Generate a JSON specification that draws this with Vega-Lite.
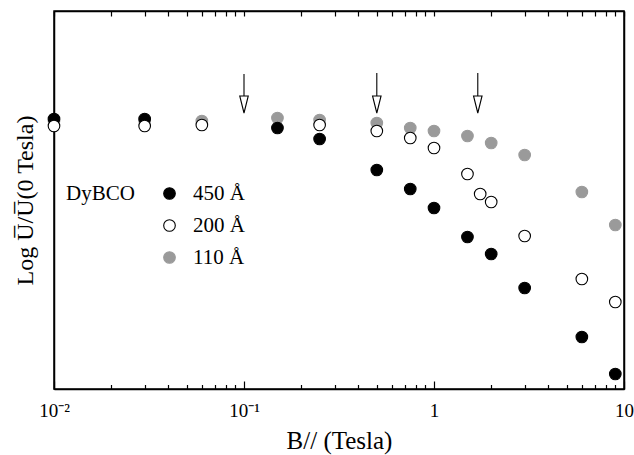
{
  "$schema": "https://vega.github.io/schema/vega-lite/v6.json",
  "width": 570,
  "height": 378,
  "autosize": {"type": "none"},
  "padding": {"left": 54, "top": 11, "right": 10, "bottom": 66},
  "background": "white",
  "config": {
    "view": {"stroke": "black", "strokeWidth": 1.5},
    "font": "Liberation Serif",
    "axis": {"labelFont": "Liberation Serif", "titleFont": "Liberation Serif", "titleFontWeight": "normal", "labelColor": "black", "titleColor": "black", "tickColor": "black", "domainColor": "black", "domainWidth": 1.5, "tickWidth": 1.2},
    "legend": {"titleFont": "Liberation Serif", "titleFontSize": 21, "titleFontWeight": "normal", "titleColor": "black", "labelFont": "Liberation Serif", "labelFontSize": 21, "labelColor": "black"}
  },
  "datasets": {
    "pts": [
      {"B": 0.01, "logU": 0.05, "sample": "110 Å"},
      {"B": 0.03, "logU": 0.05, "sample": "110 Å"},
      {"B": 0.06, "logU": 0.05, "sample": "110 Å"},
      {"B": 0.15, "logU": 0.08, "sample": "110 Å"},
      {"B": 0.25, "logU": 0.06, "sample": "110 Å"},
      {"B": 0.5, "logU": 0.03, "sample": "110 Å"},
      {"B": 0.75, "logU": -0.02, "sample": "110 Å"},
      {"B": 1.0, "logU": -0.05, "sample": "110 Å"},
      {"B": 1.5, "logU": -0.10, "sample": "110 Å"},
      {"B": 2.0, "logU": -0.17, "sample": "110 Å"},
      {"B": 3.0, "logU": -0.29, "sample": "110 Å"},
      {"B": 6.0, "logU": -0.66, "sample": "110 Å"},
      {"B": 9.0, "logU": -0.99, "sample": "110 Å"},
      {"B": 0.01, "logU": 0.07, "sample": "450 Å"},
      {"B": 0.03, "logU": 0.07, "sample": "450 Å"},
      {"B": 0.15, "logU": -0.02, "sample": "450 Å"},
      {"B": 0.25, "logU": -0.13, "sample": "450 Å"},
      {"B": 0.5, "logU": -0.44, "sample": "450 Å"},
      {"B": 0.75, "logU": -0.63, "sample": "450 Å"},
      {"B": 1.0, "logU": -0.82, "sample": "450 Å"},
      {"B": 1.5, "logU": -1.11, "sample": "450 Å"},
      {"B": 2.0, "logU": -1.28, "sample": "450 Å"},
      {"B": 3.0, "logU": -1.62, "sample": "450 Å"},
      {"B": 6.0, "logU": -2.11, "sample": "450 Å"},
      {"B": 9.0, "logU": -2.48, "sample": "450 Å"},
      {"B": 0.01, "logU": 0.0, "sample": "200 Å"},
      {"B": 0.03, "logU": 0.0, "sample": "200 Å"},
      {"B": 0.06, "logU": 0.01, "sample": "200 Å"},
      {"B": 0.25, "logU": 0.01, "sample": "200 Å"},
      {"B": 0.5, "logU": -0.05, "sample": "200 Å"},
      {"B": 0.75, "logU": -0.12, "sample": "200 Å"},
      {"B": 1.0, "logU": -0.22, "sample": "200 Å"},
      {"B": 1.5, "logU": -0.48, "sample": "200 Å"},
      {"B": 1.75, "logU": -0.68, "sample": "200 Å"},
      {"B": 2.0, "logU": -0.76, "sample": "200 Å"},
      {"B": 3.0, "logU": -1.10, "sample": "200 Å"},
      {"B": 6.0, "logU": -1.53, "sample": "200 Å"},
      {"B": 9.0, "logU": -1.76, "sample": "200 Å"}
    ],
    "arrows": [
      {"B": 0.1, "top": 0.52, "shaftEnd": 0.29, "head": 0.215},
      {"B": 0.5, "top": 0.53, "shaftEnd": 0.29, "head": 0.215},
      {"B": 1.7, "top": 0.53, "shaftEnd": 0.29, "head": 0.215}
    ]
  },
  "layer": [
    {
      "data": {"name": "pts"},
      "mark": {"type": "point", "filled": true, "shape": "circle", "size": 135, "strokeWidth": 1.1, "opacity": 1},
      "encoding": {
        "x": {
          "field": "B", "type": "quantitative",
          "scale": {"type": "log", "domain": [0.01, 10], "nice": false},
          "axis": {
            "orient": "bottom",
            "title": "B// (Tesla)",
            "titleFontSize": 25,
            "titlePadding": 8,
            "values": [0.01, 0.1, 1, 10],
            "labelExpr": "datum.value == 0.01 ? '10⁻²' : datum.value == 0.1 ? '10⁻¹' : datum.value == 1 ? '1' : '10'",
            "labelFontSize": 19,
            "labelPadding": 20,
            "labelFlush": false,
            "labelOverlap": false,
            "tickSize": -8,
            "grid": false,
            "domain": true
          }
        },
        "y": {
          "field": "logU", "type": "quantitative",
          "scale": {"domain": [-2.63, 1.15], "nice": false, "zero": false},
          "axis": {
            "orient": "left",
            "title": "Log U̅/U̅(0 Tesla)",
            "titleFontSize": 24,
            "titlePadding": 17,
            "labels": false, "ticks": false, "grid": false, "domain": true
          }
        },
        "fill": {
          "field": "sample", "type": "nominal",
          "scale": {"domain": ["450 Å", "200 Å", "110 Å"], "range": ["black", "white", "#9a9a9a"]},
          "legend": {
            "title": "DyBCO",
            "titleOrient": "left",
            "titleAnchor": "start",
            "titleBaseline": "top",
            "titlePadding": 24,
            "labelOffset": 13,
            "rowPadding": 10,
            "symbolSize": 135,
            "symbolStrokeWidth": 1.1,
            "orient": "none",
            "legendX": 12,
            "legendY": 172
          }
        },
        "stroke": {
          "field": "sample", "type": "nominal",
          "scale": {"domain": ["450 Å", "200 Å", "110 Å"], "range": ["black", "black", "#9a9a9a"]},
          "legend": {
            "title": "DyBCO",
            "titleOrient": "left",
            "titleAnchor": "start",
            "titleBaseline": "top",
            "titlePadding": 24,
            "labelOffset": 13,
            "rowPadding": 10,
            "symbolSize": 135,
            "symbolStrokeWidth": 1.1,
            "orient": "none",
            "legendX": 12,
            "legendY": 172
          }
        }
      }
    },
    {
      "data": {"name": "arrows"},
      "mark": {"type": "rule", "color": "black", "strokeWidth": 1.1},
      "encoding": {
        "x": {
          "field": "B", "type": "quantitative",
          "scale": {"type": "log", "domain": [0.01, 10], "nice": false},
          "axis": {
            "orient": "top",
            "title": null,
            "labels": false,
            "values": [0.01,0.02,0.03,0.04,0.05,0.06,0.07,0.08,0.09,0.1,0.2,0.3,0.4,0.5,0.6,0.7,0.8,0.9,1,2,3,4,5,6,7,8,9,10],
            "tickSize": -5,
            "grid": false,
            "domain": true
          }
        },
        "y": {
          "field": "top", "type": "quantitative",
          "axis": {"orient": "right", "title": null, "labels": false, "ticks": false, "grid": false, "domain": true}
        },
        "y2": {"field": "shaftEnd"}
      }
    },
    {
      "data": {"name": "arrows"},
      "mark": {"type": "point", "shape": "M-0.5,-1L0.5,-1L0,1Z", "size": 289, "filled": false, "fill": "white", "stroke": "black", "strokeWidth": 1.1, "opacity": 1},
      "encoding": {
        "x": {
          "field": "B", "type": "quantitative",
          "axis": {
            "orient": "bottom",
            "title": null,
            "labels": false,
            "values": [0.02,0.03,0.04,0.05,0.06,0.07,0.08,0.09,0.2,0.3,0.4,0.5,0.6,0.7,0.8,0.9,2,3,4,5,6,7,8,9],
            "tickSize": -4.5,
            "grid": false,
            "domain": false
          }
        },
        "y": {"field": "head", "type": "quantitative", "axis": null}
      }
    }
  ],
  "resolve": {"axis": {"x": "independent", "y": "independent"}}
}
